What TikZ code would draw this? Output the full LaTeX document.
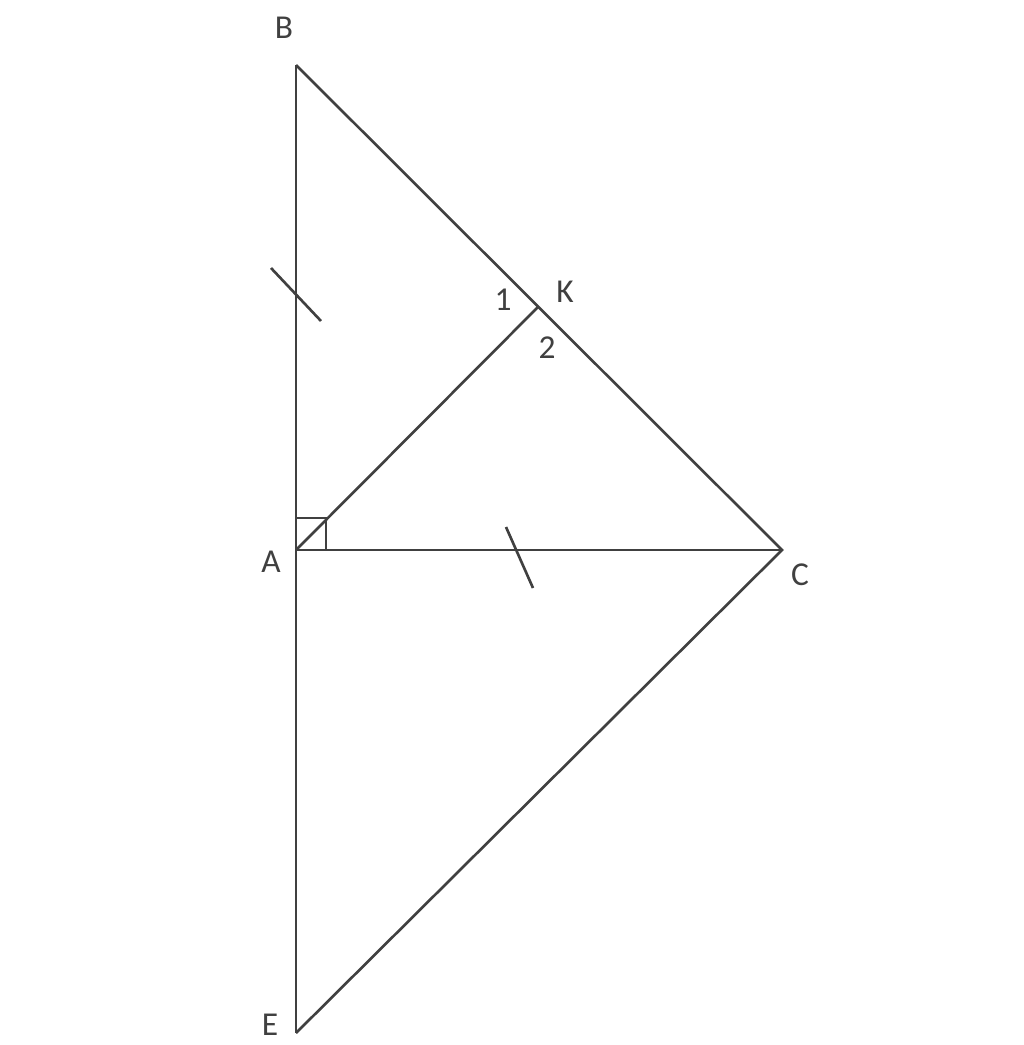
\documentclass[tikz,border=0pt]{standalone}
\usepackage{fontspec}
\setmainfont{Carlito}
\usepackage{tikz}
\usetikzlibrary{positioning}

\tikzset{
	seg/.style={line width=0.75pt, draw=black!75},
	lbl/.style={font=\fontsize{9.5}{11}\selectfont, text=black!75, inner sep=0pt},
}

\begin{document}
\begin{tikzpicture}[x=0.01cm,y=-0.01cm]
		\useasboundingbox (0,0) rectangle (1024,1045);
		% Points
		\coordinate (B) at (296,65);
		\coordinate (A) at (296,550);
		\coordinate (C) at (782,550);
		\coordinate (E) at (296,1033);
		\coordinate (K) at (538,307);
		% Sides
		\draw [seg] (B) -- (E);
		\draw [seg] (A) -- (C);
		\draw [seg] (B) -- (C) -- (E);
		\draw [seg] (A) -- (K);
		% Right angle at A
		\draw [seg] (296,518) -| (326,550);
		% Equal marks
		\coordinate (tb1) at (271,268);
		\coordinate (tb2) at (321,321);
		\coordinate (tc1) at (506,527);
		\coordinate (tc2) at (533,588);
		\draw [seg] (tb1) -- (tb2);
		\draw [seg] (tc1) -- (tc2);
		% Labels
		\node [lbl] (labB) at (284,28) {B};
		\node [lbl] (labK) at (565,292) {K};
		\node [lbl] (lab1) at (503,300) {1};
		\node [lbl] (lab2) at (547,348) {2};
		\node [lbl] (labA) at (271,562) {A};
		\node [lbl] (labC) at (800,575) {C};
		\node [lbl] (labE) at (270,1025) {E};
\end{tikzpicture}
\end{document}
